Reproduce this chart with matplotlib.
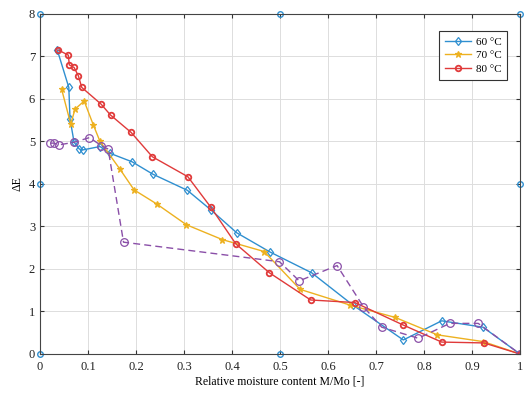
import matplotlib.pyplot as plt

plt.rcParams['font.family'] = ['Liberation Serif', 'DejaVu Serif']

# 60 °C
x60 = [0.036, 0.060, 0.0625, 0.071, 0.082, 0.089, 0.125, 0.146, 0.192, 0.235,
       0.307, 0.356, 0.410, 0.479, 0.566, 0.652, 0.757, 0.837, 0.923, 1.0]
y60 = [7.15, 6.27, 5.53, 4.98, 4.82, 4.80, 4.88, 4.72, 4.52, 4.23,
       3.85, 3.39, 2.85, 2.40, 1.91, 1.15, 0.33, 0.78, 0.63, 0.0]

# 70 °C
x70 = [0.045, 0.064, 0.073, 0.092, 0.111, 0.125, 0.167, 0.196, 0.243, 0.305,
       0.380, 0.467, 0.542, 0.646, 0.740, 0.828, 0.924, 1.0]
y70 = [6.23, 5.41, 5.76, 5.95, 5.39, 5.00, 4.34, 3.86, 3.53, 3.04,
       2.69, 2.41, 1.52, 1.15, 0.86, 0.45, 0.29, 0.0]

# 80 °C
x80 = [0.038, 0.059, 0.061, 0.071, 0.080, 0.087, 0.127, 0.147, 0.190, 0.234,
       0.308, 0.356, 0.408, 0.478, 0.564, 0.656, 0.757, 0.837, 0.925, 1.0]
y80 = [7.15, 7.03, 6.80, 6.74, 6.54, 6.27, 5.88, 5.62, 5.21, 4.64,
       4.17, 3.45, 2.59, 1.91, 1.27, 1.21, 0.68, 0.28, 0.26, 0.0]

# dashed series (no legend entry)
xd = [0.021, 0.029, 0.040, 0.071, 0.103, 0.128, 0.142, 0.174, 0.499, 0.540,
      0.619, 0.674, 0.712, 0.788, 0.854, 0.913, 1.0]
yd = [4.96, 4.96, 4.92, 4.98, 5.09, 4.90, 4.82, 2.63, 2.17, 1.72,
      2.08, 1.11, 0.63, 0.37, 0.72, 0.72, 0.0]

# stray markers on the frame
xf = [0, 0, 0, 0.5, 1, 1, 0.5]
yf = [0, 4, 8, 8, 8, 4, 0]

blue = '#2f8fd0'
yellow = '#edb120'
red = '#e03a3a'
purple = '#8a4fa8'

fig = plt.figure(figsize=(5.3, 3.98), dpi=100)
ax = fig.add_axes([0.0755, 0.1106, 0.9055, 0.8545])

ax.plot(x60, y60, color=blue, lw=1.0, marker='d', ms=4.5, mfc='none', mew=0.9, label='60 °C')
ax.plot(x70, y70, color=yellow, lw=1.0, marker='*', ms=5, mew=0.9, label='70 °C')
ax.plot(x80, y80, color=red, lw=1.0, marker='o', ms=4, mfc='none', mew=1.3, label='80 °C')
ax.plot(xd, yd, color=purple, lw=1.0, ls=(0, (5, 3)), marker='o', ms=5.5, mfc='none', mew=0.9)
ax.plot(xf, yf, ls='none', color=blue, marker='o', ms=4, mfc='none', mew=1.0, clip_on=False)

ax.set_xlim(0, 1)
ax.set_ylim(0, 8)
ax.set_xticks([i / 10 for i in range(11)])
ax.set_xticklabels(['0', '0.1', '0.2', '0.3', '0.4', '0.5', '0.6', '0.7', '0.8', '0.9', '1'])
ax.set_yticks(range(9))
ax.tick_params(direction='in', top=True, right=True, labelsize=9, length=3, colors='#333333',
               labelcolor='#222222')
ax.tick_params(axis='x', pad=5)
ax.grid(True, color='#dddddd', lw=0.7)
for s in ax.spines.values():
    s.set_color('#444444')
    s.set_linewidth(0.8)

ax.set_xlabel('Relative moisture content M/Mo [-]', fontsize=8.5, labelpad=2)
ax.set_ylabel('ΔE', fontsize=8.5, labelpad=4)

leg = ax.legend(loc='upper right', fontsize=8, fancybox=False, edgecolor='#333333',
                framealpha=1, borderpad=0.5, handlelength=2.4, handletextpad=0.4,
                labelspacing=0.35, bbox_to_anchor=(0.985, 0.965))
leg.get_frame().set_linewidth(0.8)

fig.savefig('out.png', dpi=100)
